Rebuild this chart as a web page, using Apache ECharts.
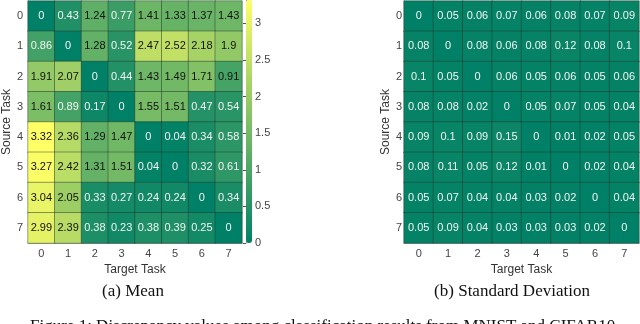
<!DOCTYPE html>
<html>
<head>
<meta charset="utf-8">
<script src="https://cdn.jsdelivr.net/npm/echarts@6/dist/echarts.min.js"></script>
<style>
  html, body { margin: 0; padding: 0; background: #fff; }
  #chart { width: 640px; height: 324px; }
</style>
</head>
<body>
<div id="chart"></div>
<script>
// task labels
var tasks = ['0', '1', '2', '3', '4', '5', '6', '7'];

// mean discrepancy, rows = source task, cols = target task
var meanVals = [
  [0, 0.43, 1.24, 0.77, 1.41, 1.33, 1.37, 1.43],
  [0.86, 0, 1.28, 0.52, 2.47, 2.52, 2.18, 1.9],
  [1.91, 2.07, 0, 0.44, 1.43, 1.49, 1.71, 0.91],
  [1.61, 0.89, 0.17, 0, 1.55, 1.51, 0.47, 0.54],
  [3.32, 2.36, 1.29, 1.47, 0, 0.04, 0.34, 0.58],
  [3.27, 2.42, 1.31, 1.51, 0.04, 0, 0.32, 0.61],
  [3.04, 2.05, 0.33, 0.27, 0.24, 0.24, 0, 0.34],
  [2.99, 2.39, 0.38, 0.23, 0.38, 0.39, 0.25, 0]
];

// standard deviation
var stdVals = [
  [0, 0.05, 0.06, 0.07, 0.06, 0.08, 0.07, 0.09],
  [0.08, 0, 0.08, 0.06, 0.08, 0.12, 0.08, 0.1],
  [0.1, 0.05, 0, 0.06, 0.05, 0.06, 0.05, 0.06],
  [0.08, 0.08, 0.02, 0, 0.05, 0.07, 0.05, 0.04],
  [0.09, 0.1, 0.09, 0.15, 0, 0.01, 0.02, 0.05],
  [0.08, 0.11, 0.05, 0.12, 0.01, 0, 0.02, 0.04],
  [0.05, 0.07, 0.04, 0.04, 0.03, 0.02, 0, 0.04],
  [0.05, 0.09, 0.04, 0.03, 0.03, 0.03, 0.02, 0]
];

var colorMax = 3.32;
var sans = 'Liberation Sans, Arial, sans-serif';
var serif = 'Liberation Serif, Times New Roman, serif';

// heatmap cells; text goes dark on the light cells
function toCells(vals) {
  var out = [];
  vals.forEach(function (row, r) {
    row.forEach(function (v, c) {
      out.push({
        value: [c, r, v],
        label: { color: v > 0.9 ? '#111' : '#f4f4f4' }
      });
    });
  });
  return out;
}

function catAxis(gridIndex, name, isY, gap, margin) {
  return {
    type: 'category',
    gridIndex: gridIndex,
    data: tasks,
    inverse: isY,
    name: name,
    nameLocation: 'middle',
    nameGap: gap,
    nameTextStyle: { fontFamily: sans, fontSize: 12, color: '#333' },
    axisLine: { show: true, lineStyle: { color: '#aaa' } },
    axisTick: { show: false },
    axisLabel: { fontFamily: sans, fontSize: 11, color: '#444', margin: margin },
    splitLine: { show: false }
  };
}

var cellStyle = { borderColor: 'rgba(30,50,40,0.45)', borderWidth: 1 };
var cellLabel = { show: true, fontFamily: sans, fontSize: 11 };

var chart = echarts.init(document.getElementById('chart'));
chart.setOption({
  animation: false,
  grid: [
    { left: 19, top: 1, width: 223, height: 242 },
    { left: 404, top: 1, width: 235, height: 242 },
    { left: 246, top: 0, width: 6, height: 243 }
  ],
  xAxis: [
    catAxis(0, 'Target Task', false, 16, 5),
    catAxis(1, 'Target Task', false, 16, 5),
    { type: 'value', gridIndex: 2, show: false, min: 0, max: 1 }
  ],
  yAxis: [
    catAxis(0, 'Source Task', true, 13, 5),
    catAxis(1, 'Source Task', true, 7, 2),
    {
      type: 'value', gridIndex: 2, position: 'right', min: 0, max: colorMax, interval: 0.5,
      axisLine: { show: true, lineStyle: { color: '#999' } },
      axisTick: { show: true, inside: true, length: 3, lineStyle: { color: '#555' } },
      axisLabel: { fontFamily: sans, fontSize: 11, color: '#444', margin: 3, showMaxLabel: false },
      splitLine: { show: false }
    }
  ],
  visualMap: {
    type: 'continuous',
    min: 0,
    max: colorMax,
    seriesIndex: [0, 1],
    left: 246,
    top: 0,
    padding: 0,
    itemWidth: 6,
    itemHeight: 243,
    text: null,
    calculable: false,
    hoverLink: false,
    inRange: { color: ['#008066', '#ffff66'] }
  },
  series: [
    {
      type: 'heatmap', xAxisIndex: 0, yAxisIndex: 0,
      data: toCells(meanVals), itemStyle: cellStyle, label: cellLabel
    },
    {
      type: 'heatmap', xAxisIndex: 1, yAxisIndex: 1,
      data: toCells(stdVals), itemStyle: cellStyle, label: cellLabel
    }
  ],
  graphic: [
    { type: 'text', x: 133, y: 292, style: { text: '(a) Mean', font: '17px ' + serif, fill: '#111', align: 'center', verticalAlign: 'middle' } },
    { type: 'text', x: 512, y: 292, style: { text: '(b) Standard Deviation', font: '17px ' + serif, fill: '#111', align: 'center', verticalAlign: 'middle' } },
    { type: 'text', x: 30, y: 318, style: { text: 'Figure 1: Discrepancy values among classification results from MNIST and CIFAR10', font: '17px ' + serif, fill: '#111', align: 'left', verticalAlign: 'top' } }
  ]
});
</script>
</body>
</html>
